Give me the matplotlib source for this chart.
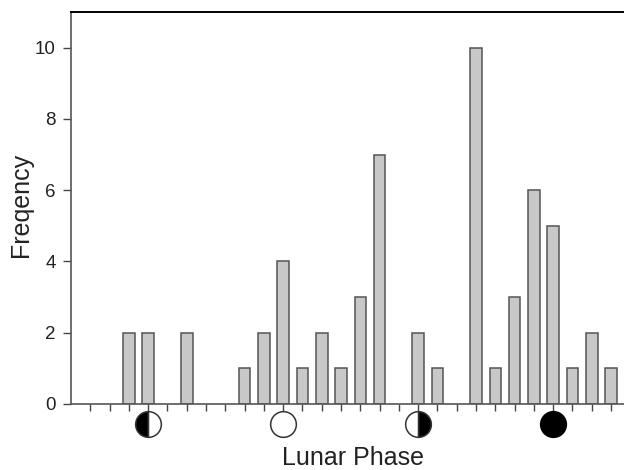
import matplotlib
matplotlib.use("Agg")
import matplotlib.pyplot as plt

# phase bin index and count
bins = [2, 3, 5, 8, 9, 10, 11, 12, 13, 14, 15, 17, 18, 20, 21, 22, 23, 24, 25, 26, 27]
counts = [2, 2, 2, 1, 2, 4, 1, 2, 1, 3, 7, 2, 1, 10, 1, 3, 6, 5, 1, 2, 1]
y_ticks = [0, 2, 4, 6, 8, 10]
moon_bins = [3, 10, 17, 24]

plt.rcParams['font.family'] = ['Liberation Sans', 'DejaVu Sans']

fig = plt.figure(figsize=(6.24, 4.7), dpi=100)
ax = fig.add_axes([71 / 624, 1 - 404 / 470, 553 / 624, 392 / 470])

ax.bar(bins, counts, width=0.6, color='#c8c8c8', edgecolor='#555555', linewidth=1.1)

ax.set_xlim(-1, 27.67)
ax.set_ylim(0, 11)
ax.set_xticks(range(0, 28))
ax.set_xticklabels([])
ax.set_yticks(y_ticks)
ax.tick_params(axis='y', labelsize=13.5, length=6, width=1, color='#444444', labelcolor='#222222', pad=5)
ax.tick_params(axis='x', length=5, width=1, color='#444444')

for side in ['left', 'bottom']:
    ax.spines[side].set_color('#555555')
    ax.spines[side].set_linewidth(1.2)
ax.spines['top'].set_color('black')
ax.spines['top'].set_linewidth(1.4)
ax.spines['right'].set_visible(False)

# moon symbols under the axis
trans = ax.get_xaxis_transform()
y_moon = -20 / 392
ms = 18.5
ax.plot(moon_bins[0], y_moon, 'o', transform=trans, clip_on=False, ms=ms, fillstyle='left',
        markerfacecolor='black', markerfacecoloralt='white', markeredgecolor='#333333', markeredgewidth=1.1)
ax.plot(moon_bins[1], y_moon, 'o', transform=trans, clip_on=False, ms=ms,
        markerfacecolor='white', markeredgecolor='#333333', markeredgewidth=1.1)
ax.plot(moon_bins[2], y_moon, 'o', transform=trans, clip_on=False, ms=ms, fillstyle='right',
        markerfacecolor='black', markerfacecoloralt='white', markeredgecolor='#333333', markeredgewidth=1.1)
ax.plot(moon_bins[3], y_moon, 'o', transform=trans, clip_on=False, ms=ms,
        markerfacecolor='black', markeredgecolor='black', markeredgewidth=1.1)

fig.text(353 / 624, 1 - 458 / 470, 'Lunar Phase', fontsize=18, color='#222222', ha='center', va='center')
fig.text(21 / 624, 1 - 205 / 470, 'Freqency', fontsize=18, color='#222222', ha='center', va='center', rotation=90)

fig.savefig('out.png', dpi=100)
